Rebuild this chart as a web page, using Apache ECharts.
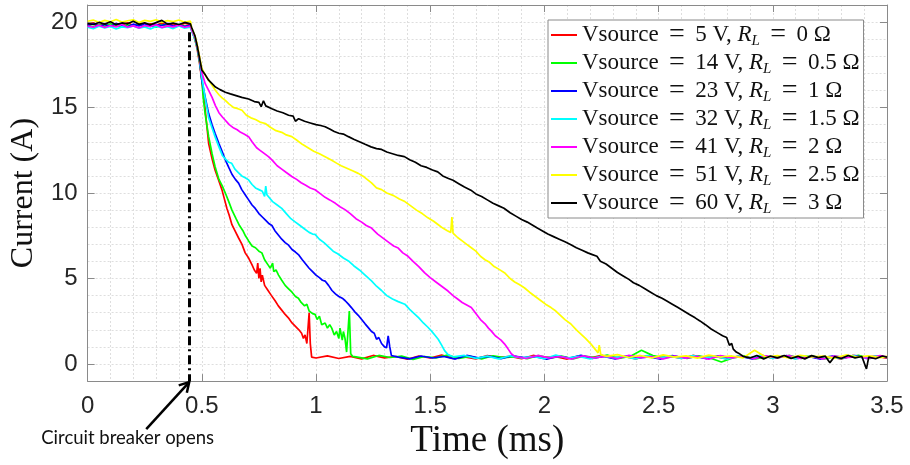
<!DOCTYPE html>
<html><head><meta charset="utf-8">
<script src="https://cdn.jsdelivr.net/npm/echarts@6.0.0/dist/echarts.min.js"></script>
<style>html,body{margin:0;padding:0;background:#fff}#c{width:910px;height:465px}</style>
</head><body><div id="c"></div>
<script>
const sourceVolts = [5, 14, 23, 32, 41, 51, 60];
const loadOhms = ['0', '0.5', '1', '1.5', '2', '2.5', '3'];
const yTickValues = [0, 5, 10, 15, 20];
const breakerTime = 0.445;

const preTime = [0,0.025,0.05,0.075,0.1,0.125,0.15,0.175,0.2,0.225,0.25,0.275,0.3,0.325,0.35,0.375,0.4,0.425,0.45];

const redPre = [19.85,19.95,19.8,19.9,19.78,19.92,19.84,19.96,19.8,19.88,19.76,19.9,19.82,19.95,19.8,19.9,19.78,19.93,19.85];
const greenPre = [19.8,19.72,19.86,19.75,19.9,19.78,19.7,19.84,19.76,19.88,19.74,19.82,19.7,19.86,19.78,19.73,19.85,19.77,19.8];
const bluePre = [19.82,19.9,19.76,19.86,19.74,19.92,19.8,19.72,19.88,19.78,19.9,19.75,19.85,19.8,19.92,19.76,19.84,19.74,19.83];
const cyanPre = [19.7,19.62,19.76,19.66,19.74,19.6,19.72,19.68,19.78,19.64,19.72,19.6,19.75,19.67,19.73,19.62,19.77,19.65,19.7];
const magentaPre = [19.76,19.7,19.82,19.68,19.8,19.72,19.86,19.7,19.78,19.66,19.8,19.74,19.84,19.68,19.78,19.72,19.82,19.7,19.76];
const yellowPre = [20.05,20.12,19.98,20.1,20.02,20.15,20.0,20.08,20.13,19.97,20.1,20.04,20.14,20.0,20.09,20.03,20.12,19.99,20.06];
const blackPre = [19.92,19.86,19.98,19.88,20.02,19.85,19.95,19.9,20.05,19.87,19.96,19.84,19.97,20.1,19.88,19.94,19.86,19.98,19.9];

const redDecay = [[0.455,19.6],[0.47,19.0],[0.48,18.4],[0.49,17.6],[0.5,16.6],[0.51,15.5],[0.52,14.2],[0.53,12.9],[0.545,12.0],[0.558,11.35],[0.57,10.9],[0.588,10.2],[0.6,9.6],[0.61,9.1],[0.62,8.7],[0.632,8.15],[0.645,7.8],[0.66,7.4],[0.676,7.0],[0.69,6.5],[0.705,6.2],[0.72,5.8],[0.73,5.5],[0.74,5.3],[0.745,5.9],[0.75,5.0],[0.755,5.6],[0.76,4.8],[0.765,5.2],[0.775,4.6],[0.79,4.3],[0.805,4.0],[0.821,3.7],[0.835,3.4],[0.85,3.15],[0.865,2.9],[0.879,2.7],[0.895,2.4],[0.91,2.2],[0.925,2.0],[0.937,1.8],[0.945,1.5],[0.952,1.7],[0.96,1.2],[0.965,1.3],[0.97,3.0],[0.975,1.2],[0.981,0.4]];
const greenDecay = [[0.455,19.55],[0.47,19.0],[0.48,18.5],[0.49,17.7],[0.5,16.7],[0.506,15.6],[0.515,14.6],[0.53,13.3],[0.545,12.3],[0.558,11.55],[0.575,10.8],[0.59,10.4],[0.603,10.0],[0.618,9.5],[0.632,9.0],[0.65,8.5],[0.665,8.1],[0.68,7.8],[0.691,7.5],[0.705,7.2],[0.72,6.9],[0.735,6.8],[0.75,6.6],[0.763,6.5],[0.775,6.1],[0.79,5.8],[0.8,5.6],[0.81,5.9],[0.815,5.4],[0.825,5.5],[0.836,5.2],[0.85,4.9],[0.865,4.6],[0.88,4.4],[0.895,4.2],[0.91,3.95],[0.923,3.85],[0.935,3.6],[0.95,3.4],[0.96,3.5],[0.97,3.1],[0.985,2.95],[0.996,2.9],[1.005,2.6],[1.015,2.8],[1.025,2.3],[1.04,2.4],[1.05,2.1],[1.06,2.3],[1.069,2.1],[1.08,1.7],[1.09,1.9],[1.1,1.5],[1.105,2.1],[1.115,1.4],[1.12,1.9],[1.127,1.5],[1.134,0.7],[1.14,0.6],[1.146,3.1],[1.152,0.6],[1.16,0.45]];
const blueDecay = [[0.455,19.6],[0.47,19.1],[0.48,18.6],[0.49,17.8],[0.5,16.6],[0.515,15.6],[0.53,14.65],[0.545,14.0],[0.558,13.5],[0.575,12.9],[0.59,12.4],[0.603,11.94],[0.618,11.5],[0.632,11.1],[0.647,10.8],[0.661,10.58],[0.675,10.2],[0.69,9.9],[0.705,9.6],[0.72,9.3],[0.734,9.1],[0.75,8.8],[0.765,8.6],[0.78,8.4],[0.795,8.2],[0.807,8.1],[0.82,7.8],[0.835,7.55],[0.85,7.3],[0.865,7.1],[0.88,6.95],[0.895,6.7],[0.91,6.55],[0.923,6.4],[0.94,6.1],[0.955,5.85],[0.97,5.6],[0.985,5.4],[1.0,5.2],[1.015,5.05],[1.028,4.9],[1.04,4.85],[1.055,4.6],[1.07,4.3],[1.085,4.1],[1.1,3.95],[1.115,3.85],[1.128,3.7],[1.142,3.5],[1.155,3.3],[1.17,3.05],[1.185,2.85],[1.2,2.6],[1.215,2.35],[1.229,2.13],[1.243,1.9],[1.255,1.8],[1.265,1.45],[1.275,1.55],[1.287,1.2],[1.3,1.0],[1.309,0.95],[1.316,1.65],[1.323,1.0],[1.33,0.5]];
const cyanDecay = [[0.455,19.5],[0.47,19.0],[0.48,18.5],[0.49,17.8],[0.5,16.8],[0.514,15.6],[0.53,14.4],[0.545,13.8],[0.558,13.3],[0.575,12.7],[0.59,12.2],[0.603,12.0],[0.618,11.8],[0.631,11.74],[0.645,11.4],[0.66,11.2],[0.675,11.0],[0.69,10.9],[0.705,10.77],[0.72,10.5],[0.735,10.3],[0.75,10.2],[0.765,10.1],[0.775,9.8],[0.78,10.4],[0.785,9.9],[0.792,9.8],[0.81,9.5],[0.83,9.3],[0.85,9.1],[0.87,8.8],[0.89,8.5],[0.91,8.3],[0.93,8.1],[0.95,7.9],[0.97,7.7],[0.985,7.6],[0.996,7.58],[1.015,7.3],[1.035,7.1],[1.055,6.85],[1.075,6.6],[1.095,6.45],[1.12,6.2],[1.142,6.03],[1.165,5.75],[1.19,5.5],[1.215,5.2],[1.243,4.86],[1.265,4.55],[1.287,4.3],[1.31,4.0],[1.335,3.8],[1.36,3.65],[1.389,3.5],[1.41,3.2],[1.43,2.95],[1.45,2.7],[1.47,2.4],[1.49,2.15],[1.505,1.94],[1.52,1.7],[1.535,1.45],[1.55,1.1],[1.563,0.78],[1.578,0.55]];
const magentaDecay = [[0.455,19.55],[0.47,19.1],[0.48,18.6],[0.49,17.9],[0.5,17.06],[0.515,16.4],[0.53,16.0],[0.545,15.6],[0.56,15.1],[0.575,14.7],[0.59,14.45],[0.603,14.26],[0.62,14.0],[0.64,13.8],[0.655,13.7],[0.67,13.55],[0.685,13.45],[0.705,13.3],[0.72,13.0],[0.74,12.65],[0.755,12.5],[0.77,12.35],[0.792,12.13],[0.81,11.9],[0.83,11.6],[0.85,11.4],[0.87,11.2],[0.894,10.97],[0.915,10.8],[0.935,10.6],[0.955,10.45],[0.975,10.3],[0.996,10.19],[1.02,9.95],[1.04,9.75],[1.06,9.6],[1.085,9.4],[1.105,9.2],[1.127,9.03],[1.15,8.8],[1.175,8.5],[1.2,8.3],[1.22,8.1],[1.243,7.95],[1.27,7.6],[1.295,7.35],[1.32,7.1],[1.34,6.9],[1.36,6.78],[1.38,6.5],[1.403,6.3],[1.425,6.0],[1.45,5.7],[1.476,5.33],[1.5,5.05],[1.525,4.8],[1.55,4.55],[1.578,4.27],[1.6,4.0],[1.62,3.8],[1.64,3.6],[1.66,3.45],[1.68,3.3],[1.7,2.95],[1.72,2.6],[1.74,2.35],[1.755,2.1],[1.767,1.94],[1.785,1.65],[1.8,1.5],[1.81,1.4],[1.825,1.18],[1.84,0.9],[1.855,0.6]];
const yellowDecay = [[0.455,19.7],[0.47,19.2],[0.48,18.7],[0.49,18.0],[0.5,17.3],[0.515,16.9],[0.53,16.6],[0.545,16.3],[0.56,16.0],[0.575,15.75],[0.59,15.55],[0.603,15.42],[0.62,15.2],[0.64,15.0],[0.655,14.95],[0.676,14.84],[0.695,14.55],[0.715,14.4],[0.735,14.3],[0.755,14.15],[0.778,14.07],[0.8,13.85],[0.825,13.65],[0.85,13.55],[0.87,13.4],[0.894,13.3],[0.915,13.1],[0.94,12.85],[0.965,12.65],[0.99,12.45],[1.015,12.3],[1.04,12.13],[1.065,11.95],[1.09,11.75],[1.11,11.6],[1.135,11.45],[1.16,11.3],[1.185,11.15],[1.21,10.95],[1.243,10.6],[1.265,10.3],[1.287,10.2],[1.31,10.0],[1.34,9.85],[1.365,9.65],[1.389,9.5],[1.415,9.25],[1.44,9.0],[1.465,8.8],[1.49,8.55],[1.515,8.35],[1.534,8.16],[1.555,7.95],[1.575,7.8],[1.59,7.7],[1.595,8.6],[1.6,7.65],[1.62,7.4],[1.64,7.2],[1.66,7.0],[1.68,6.8],[1.7,6.6],[1.72,6.3],[1.74,6.1],[1.76,5.95],[1.78,5.7],[1.8,5.55],[1.825,5.34],[1.85,5.0],[1.87,4.8],[1.89,4.65],[1.912,4.46],[1.935,4.2],[1.96,3.95],[1.985,3.7],[2.005,3.5],[2.029,3.3],[2.05,3.1],[2.07,2.85],[2.09,2.6],[2.116,2.34],[2.14,2.0],[2.16,1.75],[2.18,1.5],[2.203,1.18],[2.22,0.9],[2.235,0.65],[2.24,1.1],[2.247,0.55]];
const blackDecay = [[0.455,19.7],[0.47,19.2],[0.48,18.6],[0.49,17.9],[0.5,17.2],[0.516,16.9],[0.53,16.6],[0.545,16.4],[0.56,16.2],[0.58,16.05],[0.603,15.9],[0.625,15.8],[0.65,15.7],[0.675,15.6],[0.705,15.5],[0.73,15.35],[0.75,15.3],[0.76,15.05],[0.77,15.4],[0.78,15.1],[0.807,14.93],[0.83,14.8],[0.855,14.7],[0.88,14.55],[0.9,14.5],[0.91,14.2],[0.924,14.35],[0.95,14.2],[0.975,14.1],[1.0,14.0],[1.02,13.95],[1.04,13.88],[1.06,13.75],[1.08,13.6],[1.1,13.5],[1.12,13.45],[1.142,13.3],[1.165,13.15],[1.19,13.0],[1.215,12.85],[1.241,12.7],[1.265,12.6],[1.287,12.55],[1.31,12.4],[1.335,12.3],[1.36,12.2],[1.387,12.13],[1.41,11.95],[1.435,11.8],[1.46,11.6],[1.485,11.5],[1.51,11.35],[1.533,11.24],[1.555,11.0],[1.58,10.85],[1.6,10.75],[1.625,10.55],[1.65,10.35],[1.678,10.17],[1.7,9.95],[1.725,9.8],[1.75,9.6],[1.775,9.4],[1.8,9.25],[1.823,9.11],[1.85,8.85],[1.875,8.65],[1.9,8.45],[1.925,8.3],[1.945,8.15],[1.969,7.95],[1.99,7.8],[2.015,7.6],[2.04,7.45],[2.065,7.3],[2.09,7.15],[2.114,6.99],[2.14,6.8],[2.165,6.65],[2.19,6.5],[2.21,6.4],[2.23,6.3],[2.245,6.01],[2.27,5.85],[2.295,5.6],[2.32,5.35],[2.345,5.15],[2.37,4.95],[2.39,4.75],[2.415,4.6],[2.44,4.4],[2.465,4.2],[2.49,4.0],[2.515,3.85],[2.536,3.69],[2.56,3.5],[2.585,3.3],[2.61,3.1],[2.635,2.9],[2.66,2.7],[2.681,2.52],[2.705,2.3],[2.73,2.05],[2.755,1.85],[2.78,1.65],[2.798,1.55],[2.81,1.1],[2.82,1.2],[2.827,0.87],[2.84,0.7],[2.856,0.58]];

const redTail = [[1.0,0.35],[1.05,0.48],[1.1,0.32],[1.15,0.45],[1.2,0.3],[1.25,0.5],[1.3,0.36],[1.35,0.44],[1.4,0.28],[1.45,0.47],[1.5,0.35],[1.55,0.52],[1.6,0.33],[1.65,0.42],[1.7,0.3],[1.75,0.49],[1.8,0.37],[1.85,0.45],[1.9,0.31],[1.95,0.5],[2.0,0.38],[2.05,0.43],[2.1,0.29],[2.15,0.47],[2.2,0.34],[2.25,0.51],[2.3,0.36],[2.35,0.44],[2.4,0.3],[2.45,0.48],[2.5,0.35],[2.55,0.46],[2.6,0.32],[2.65,0.5],[2.7,0.37],[2.75,0.43],[2.8,0.3],[2.85,0.47],[2.9,0.35],[2.95,0.52],[3.0,0.33],[3.05,0.45],[3.1,0.31],[3.15,0.48],[3.2,0.36],[3.25,0.44],[3.3,0.29],[3.35,0.5],[3.4,0.37],[3.45,0.46],[3.5,0.34]];
const greenTail = [[1.175,0.42],[1.225,0.3],[1.275,0.5],[1.325,0.38],[1.375,0.46],[1.425,0.27],[1.475,0.44],[1.525,0.36],[1.575,0.52],[1.625,0.33],[1.675,0.45],[1.725,0.29],[1.775,0.48],[1.825,0.37],[1.875,0.43],[1.925,0.31],[1.975,0.5],[2.025,0.34],[2.075,0.46],[2.125,0.3],[2.175,0.47],[2.225,0.38],[2.275,0.52],[2.325,0.33],[2.375,0.44],[2.425,0.8],[2.475,0.49],[2.525,0.36],[2.575,0.45],[2.625,0.32],[2.675,0.48],[2.725,0.35],[2.775,0.12],[2.825,0.35],[2.875,0.47],[2.925,0.3],[2.975,0.44],[3.025,0.37],[3.075,0.5],[3.125,0.32],[3.175,0.46],[3.225,0.29],[3.275,0.45],[3.325,0.38],[3.375,0.51],[3.425,0.33],[3.475,0.44],[3.5,0.4]];
const blueTail = [[1.36,0.4],[1.41,0.3],[1.46,0.47],[1.51,0.35],[1.56,0.44],[1.61,0.29],[1.66,0.5],[1.71,0.36],[1.76,0.45],[1.81,0.31],[1.86,0.48],[1.91,0.37],[1.96,0.43],[2.01,0.28],[2.06,0.46],[2.11,0.35],[2.16,0.51],[2.21,0.33],[2.26,0.44],[2.31,0.3],[2.36,0.47],[2.41,0.36],[2.46,0.42],[2.51,0.29],[2.56,0.49],[2.61,0.34],[2.66,0.45],[2.71,0.31],[2.76,0.48],[2.81,0.37],[2.86,0.44],[2.91,0.3],[2.96,0.47],[3.01,0.35],[3.06,0.5],[3.11,0.32],[3.16,0.43],[3.21,0.29],[3.26,0.46],[3.31,0.36],[3.36,0.49],[3.41,0.33],[3.46,0.44],[3.5,0.38]];
const cyanTail = [[1.6,0.42],[1.65,0.5],[1.7,0.33],[1.75,0.46],[1.8,0.3],[1.85,0.48],[1.9,0.36],[1.95,0.44],[2.0,0.31],[2.05,0.52],[2.1,0.35],[2.15,0.45],[2.2,0.29],[2.25,0.47],[2.3,0.37],[2.35,0.43],[2.4,0.3],[2.45,0.5],[2.5,0.34],[2.55,0.46],[2.6,0.32],[2.65,0.49],[2.7,0.36],[2.75,0.44],[2.8,0.28],[2.85,0.47],[2.9,0.35],[2.95,0.51],[3.0,0.33],[3.05,0.45],[3.1,0.3],[3.15,0.48],[3.2,0.37],[3.25,0.43],[3.3,0.31],[3.35,0.5],[3.4,0.34],[3.45,0.46],[3.5,0.39]];
const magentaTail = [[1.87,0.45],[1.92,0.32],[1.97,0.5],[2.02,0.36],[2.07,0.44],[2.12,0.29],[2.17,0.48],[2.22,0.35],[2.27,0.46],[2.32,0.31],[2.37,0.51],[2.42,0.37],[2.47,0.43],[2.52,0.3],[2.57,0.47],[2.62,0.34],[2.67,0.45],[2.72,0.28],[2.77,0.49],[2.82,0.36],[2.87,0.44],[2.92,0.31],[2.97,0.48],[3.02,0.35],[3.07,0.5],[3.12,0.33],[3.17,0.45],[3.22,0.3],[3.27,0.47],[3.32,0.37],[3.37,0.43],[3.42,0.32],[3.47,0.49],[3.5,0.4]];
const yellowTail = [[2.27,0.45],[2.32,0.55],[2.37,0.38],[2.42,0.5],[2.47,0.35],[2.52,0.53],[2.57,0.4],[2.62,0.48],[2.67,0.34],[2.72,0.52],[2.77,0.41],[2.82,0.47],[2.87,0.36],[2.92,0.8],[2.97,0.39],[3.02,0.49],[3.07,0.35],[3.12,0.51],[3.17,0.42],[3.22,0.46],[3.27,0.34],[3.32,0.53],[3.37,0.4],[3.42,0.48],[3.47,0.37],[3.5,0.45]];
const blackTail = [[2.87,0.45],[2.9,0.35],[2.93,0.5],[2.96,0.3],[2.99,0.47],[3.02,0.36],[3.05,0.5],[3.08,0.33],[3.11,0.45],[3.14,0.3],[3.17,0.49],[3.2,0.37],[3.23,0.46],[3.25,0.08],[3.27,0.43],[3.3,0.32],[3.33,0.5],[3.36,0.36],[3.39,0.44],[3.41,-0.29],[3.42,0.4],[3.45,0.31],[3.48,0.47],[3.5,0.4]];

const seriesColors = ['#ff0000', '#00ff00', '#0000ff', '#00ffff', '#ff00ff', '#ffff00', '#000000'];
const pres = [redPre, greenPre, bluePre, cyanPre, magentaPre, yellowPre, blackPre];
const decays = [redDecay, greenDecay, blueDecay, cyanDecay, magentaDecay, yellowDecay, blackDecay];
const tails = [redTail, greenTail, blueTail, cyanTail, magentaTail, yellowTail, blackTail];

const names = sourceVolts.map((v, k) => 'Vsource = ' + v + ' V, RL = ' + loadOhms[k] + ' Ω');

const serif = 'Liberation Serif';
const sans = 'Liberation Sans';
const tickColor = '#262626';
const boxColor = '#8a8a8a';
const gridStyle = { color: '#dedede', width: 1, type: [2, 2] };
const wideEq = ' \u2009{e|=}\u2009 ';

const series = names.map((nm, k) => {
  const data = preTime.map((t, j) => [t, pres[k][j]]).concat(decays[k], tails[k]);
  const s = {
    name: nm, type: 'line', data: data, showSymbol: false, symbol: 'none',
    xAxisIndex: 0, yAxisIndex: 0,
    lineStyle: { color: seriesColors[k], width: 1.7 },
    itemStyle: { color: seriesColors[k] },
    animation: false, z: 3 + k
  };
  if (k === names.length - 1) {
    s.markLine = {
      silent: true, symbol: ['none', 'none'], label: { show: false },
      lineStyle: { color: '#000', width: 3, type: [9, 4, 2, 4] },
      data: [[{ coord: [breakerTime, 19.4] }, { coord: [breakerTime, -1] }]]
    };
  }
  return s;
});

const chart = echarts.init(document.getElementById('c'), null, { renderer: 'canvas' });
chart.setOption({
  animation: false,
  backgroundColor: '#fff',
  grid: { left: 85, top: 5, width: 802, height: 379, containLabel: false },
  xAxis: [{
    type: 'value', position: 'bottom', min: 0, max: 3.5, interval: 0.5,
    axisLine: { show: true, onZero: false, lineStyle: { color: boxColor, width: 1 } },
    axisTick: { show: true, inside: true, length: 7, lineStyle: { color: boxColor } },
    axisLabel: { color: tickColor, fontFamily: sans, fontSize: 24, margin: 13 },
    splitLine: { show: true, lineStyle: gridStyle },
    minorTick: { show: false, splitNumber: 5 },
    minorSplitLine: { show: true, lineStyle: gridStyle },
    name: 'Time (ms)', nameLocation: 'middle', nameGap: 38,
    nameTextStyle: { fontFamily: serif, fontSize: 37, color: '#111' }
  }, {
    type: 'value', position: 'top', min: 0, max: 3.5, interval: 0.5,
    axisLine: { show: true, onZero: false, lineStyle: { color: boxColor, width: 1 } },
    axisTick: { show: true, inside: true, length: 7, lineStyle: { color: boxColor } },
    axisLabel: { show: false }, splitLine: { show: false }
  }],
  yAxis: [{
    type: 'value', position: 'left', min: -1, max: 21, interval: 1,
    axisLine: { show: true, onZero: false, lineStyle: { color: boxColor, width: 1 } },
    axisTick: { show: false },
    axisLabel: { color: tickColor, fontFamily: sans, fontSize: 24, margin: 10,
      formatter: v => (yTickValues.indexOf(v) >= 0 ? String(v) : '') },
    splitLine: { show: true, lineStyle: gridStyle },
    name: 'Current (A)', nameLocation: 'middle', nameGap: 40,
    nameTextStyle: { fontFamily: serif, fontSize: 32, color: '#111' }
  }, {
    type: 'value', position: 'left', min: -1, max: 21,
    axisLine: { show: false },
    axisTick: { show: true, inside: true, length: 7, customValues: yTickValues, lineStyle: { color: boxColor } },
    axisLabel: { show: false }, splitLine: { show: false }
  }, {
    type: 'value', position: 'right', min: -1, max: 21,
    axisLine: { show: true, onZero: false, lineStyle: { color: boxColor, width: 1 } },
    axisTick: { show: true, inside: true, length: 7, customValues: yTickValues, lineStyle: { color: boxColor } },
    axisLabel: { show: false }, splitLine: { show: false }
  }],
  legend: {
    orient: 'vertical', left: 548, top: 20,
    padding: [1, 4, 1, 3], itemGap: 0,
    icon: 'rect', itemWidth: 26, itemHeight: 2,
    backgroundColor: '#fff', borderColor: '#8a8a8a', borderWidth: 1, borderRadius: 0,
    selectedMode: false,
    data: names,
    formatter: nm => nm.split(' = ').join(wideEq).replace('RL', '{i|R}{s|L}'),
    textStyle: {
      fontFamily: serif, fontSize: 23, color: '#111', lineHeight: 27.4,
      rich: {
        i: { fontFamily: serif, fontSize: 23, fontStyle: 'italic', color: '#111' },
        e: { fontFamily: serif, fontSize: 28, color: '#111' },
        s: { fontFamily: serif, fontSize: 15, fontStyle: 'italic', color: '#111', verticalAlign: 'bottom', lineHeight: 20 }
      }
    }
  },
  series: series
});

const tip = chart.convertToPixel({ xAxisIndex: 0, yAxisIndex: 0 }, [breakerTime, -1]);
chart.setOption({
  graphic: [
    { type: 'polyline', silent: true, z: 100,
      shape: { points: [[tip[0] - 43, tip[1] + 48], [tip[0], tip[1] + 1]] },
      style: { stroke: '#000', lineWidth: 2.5, fill: null } },
    { type: 'polyline', silent: true, z: 100,
      shape: { points: [[tip[0] - 10.5, tip[1] + 4.3], [tip[0], tip[1] + 1], [tip[0] - 2.4, tip[1] + 11.7]] },
      style: { stroke: '#000', lineWidth: 2.5, fill: null } },
    { type: 'text', silent: true, z: 100, left: tip[0] - 148, top: tip[1] + 47,
      style: { text: 'Circuit breaker opens', fontFamily: 'Lato', fontSize: 18.5, fill: '#111' } }
  ]
});
</script>
</body></html>
